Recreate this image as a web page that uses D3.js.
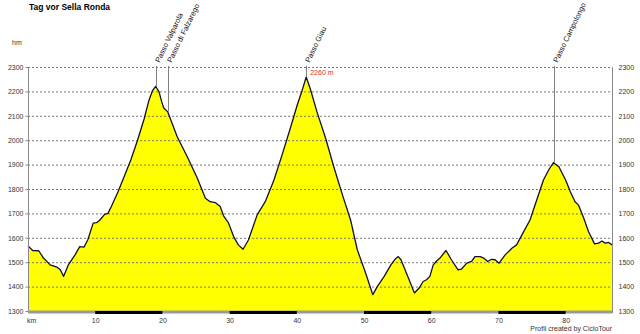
<!DOCTYPE html>
<html>
<head>
<meta charset="utf-8">
<script src="https://cdn.jsdelivr.net/npm/d3@7"></script>
<style>
    body { margin: 0; background: #fff; }
    svg { display: block; font-family: Arial, "Liberation Sans", sans-serif; }
</style>
</head>
<body>
<div id="chart"></div>
<script>
var width = 640,
    height = 334;
var margin = { top: 67, right: 28, bottom: 23, left: 28 };

// profile: distance (km) and elevation (m)
var km = [0, 0.7, 1.6, 2.3, 3.3, 4.3, 4.8, 5.3, 6.0, 7.0, 7.7, 8.35, 8.9, 9.7, 10.2, 10.7, 11.4, 11.9, 12.4,
    13.4, 14.3, 15.3, 16.3, 17.3, 18.0, 18.5, 19.0, 19.5, 19.9, 20.2, 20.8, 22.2, 23.7, 25.2, 26.4, 27.1,
    27.9, 28.6, 29.1, 29.85, 30.6, 31.3, 32.0, 32.8, 34.1, 35.3, 36.6, 37.8, 39.1, 40.05, 40.8, 41.4, 42.0,
    43.0, 44.3, 45.5, 46.8, 48.0, 49.0, 50.25, 51.3, 52.0, 53.0, 54.0, 54.6, 55.1, 55.5, 56.5, 57.5, 58.2,
    58.8, 59.3, 59.8, 60.3, 60.8, 61.3, 62.2, 63.0, 64.0, 64.5, 65.3, 66.0, 66.5, 67.3, 67.8, 68.4, 69.0,
    69.5, 70.1, 71.0, 72.0, 72.7, 73.5, 74.7, 75.7, 76.7, 77.6, 78.2, 79.0, 80.0, 80.7, 81.4, 81.9, 82.7,
    83.4, 84.3, 84.9, 85.4, 85.9, 86.4, 86.9];
var elevation = [1567, 1548, 1547, 1517, 1489, 1480, 1469, 1442, 1489, 1530, 1564, 1562, 1592, 1660, 1662, 1673, 1696, 1700, 1728,
    1789, 1850, 1919, 2000, 2089, 2164, 2202, 2221, 2198, 2157, 2132, 2116, 2014, 1932, 1844, 1762, 1748,
    1744, 1728, 1690, 1660, 1605, 1571, 1553, 1591, 1694, 1748, 1837, 1939, 2055, 2143, 2205, 2259, 2211,
    2116, 2007, 1891, 1775, 1673, 1551, 1455, 1367, 1401, 1442, 1489, 1512, 1523, 1510, 1442, 1374, 1394,
    1421, 1428, 1442, 1489, 1505, 1517, 1548, 1510, 1469, 1472, 1496, 1503, 1523, 1523, 1517, 1503, 1512,
    1510, 1496, 1530, 1557, 1571, 1612, 1673, 1755, 1837, 1884, 1908, 1891, 1837, 1789, 1748, 1735, 1680,
    1626, 1575, 1578, 1587, 1578, 1581, 1571];

var passNames = ["Passo Valparola", "Passo di Falzarego", "Passo Giau", "Passo Campolongo"];
var passKm = [19.0, 20.8, 41.4, 78.2];
var passElev = [2221, 2118, 2259, 1908];

var yTicks = [1300, 1400, 1500, 1600, 1700, 1800, 1900, 2000, 2100, 2200, 2300];
var xTicks = [10, 20, 30, 40, 50, 60, 70, 80];
var maxLabel = "2260 m";

var profile = km.map(function(d, i) { return { km: d, ele: elevation[i] }; });

var svg = d3.select("#chart").append("svg")
    .attr("width", width)
    .attr("height", height);

var x = d3.scaleLinear().domain([0, 86.9]).range([margin.left, width - margin.right]);
var y = d3.scaleLinear().domain([1300, 2300]).range([height - margin.bottom, margin.top]);

// filled profile
var area = d3.area()
    .x(function(d) { return x(d.km); })
    .y0(y(1300))
    .y1(function(d) { return y(d.ele); });
var line = d3.line()
    .x(function(d) { return x(d.km); })
    .y(function(d) { return y(d.ele); });

svg.append("path")
    .datum(profile)
    .attr("fill", "#ffff00")
    .attr("d", area);

// dotted grid lines (drawn over the fill, like the original)
svg.append("g")
    .selectAll("line")
    .data(yTicks.slice(1))
    .enter().append("line")
    .attr("x1", x(0))
    .attr("x2", x(86.9))
    .attr("y1", function(d) { return y(d) + 0.5; })
    .attr("y2", function(d) { return y(d) + 0.5; })
    .attr("stroke", "#777")
    .attr("stroke-width", 1)
    .attr("stroke-dasharray", "2,2");

svg.append("path")
    .datum(profile)
    .attr("fill", "none")
    .attr("stroke", "#101030")
    .attr("stroke-width", 1.3)
    .attr("stroke-linejoin", "round")
    .attr("d", line);

// left and right axes
[x(0), x(86.9)].forEach(function(px) {
    svg.append("line")
        .attr("x1", px + 0.5).attr("x2", px + 0.5)
        .attr("y1", y(2300)).attr("y2", y(1300) + 2)
        .attr("stroke", "#888")
        .attr("stroke-width", 1);
});

var yLeft = d3.axisLeft(y).tickValues(yTicks).tickSize(3).tickFormat(d3.format("d"));
var gL = svg.append("g").attr("transform", "translate(" + (x(0) + 0.5) + ",0)").call(yLeft);
gL.select(".domain").remove();
gL.selectAll("line").attr("stroke", "#888");
gL.selectAll("text").attr("fill", "#333").style("font-size", "7px").attr("x", -5);

var yRight = d3.axisRight(y).tickValues(yTicks).tickSize(0).tickFormat(d3.format("d"));
var gR = svg.append("g").attr("transform", "translate(" + (x(86.9) + 0.5) + ",0)").call(yRight);
gR.select(".domain").remove();
gR.selectAll("text").attr("fill", "#333").style("font-size", "7px").attr("x", 6);

// bottom axis with alternating 10 km bars
svg.append("line")
    .attr("x1", x(0)).attr("x2", x(86.9))
    .attr("y1", y(1300) + 1).attr("y2", y(1300) + 1)
    .attr("stroke", "#999")
    .attr("stroke-width", 3);
svg.append("g")
    .selectAll("rect")
    .data([10, 30, 50, 70])
    .enter().append("rect")
    .attr("x", function(d) { return x(d); })
    .attr("width", function(d) { return x(d + 10) - x(d); })
    .attr("y", y(1300))
    .attr("height", 3)
    .attr("fill", "#000");

var xAxis = d3.axisBottom(x).tickValues(xTicks).tickSize(0).tickFormat(d3.format("d"));
var gX = svg.append("g").attr("transform", "translate(0," + (y(1300) + 3) + ")").call(xAxis);
gX.select(".domain").remove();
gX.selectAll("text").attr("fill", "#333").style("font-size", "7px").attr("dy", "0.9em");

svg.append("text").attr("x", x(0) - 1).attr("y", 323)
    .attr("fill", "#333").style("font-size", "7px").text("km");
svg.append("text").attr("x", 12).attr("y", 45)
    .attr("fill", "#333").style("font-size", "7px").text("hm");

// pass markers
passNames.forEach(function(name, i) {
    var px = Math.round(x(passKm[i])) + 0.5;
    svg.append("line")
        .attr("x1", px).attr("x2", px)
        .attr("y1", y(2300) - 1)
        .attr("y2", y(passElev[i]))
        .attr("stroke", "#808080")
        .attr("stroke-width", 1);
    svg.append("text")
        .attr("transform", "translate(" + (px + 3) + "," + (y(2300) - 4) + ") rotate(-64)")
        .attr("fill", "#111")
        .style("font-size", "7.5px")
        .text(name);
});

svg.append("text")
    .attr("x", x(41.4) + 4)
    .attr("y", y(2300) + 8)
    .attr("fill", "#cc3333")
    .style("font-size", "7px")
    .text(maxLabel);

svg.append("text")
    .attr("x", 29).attr("y", 10)
    .style("font-size", "8.5px")
    .style("font-weight", "bold")
    .text("Tag vor Sella Ronda");

svg.append("text")
    .attr("x", x(86.9)).attr("y", 331)
    .attr("text-anchor", "end")
    .attr("fill", "#333")
    .style("font-size", "7px")
    .text("Profil created by CicloTour");
</script>
</body>
</html>
